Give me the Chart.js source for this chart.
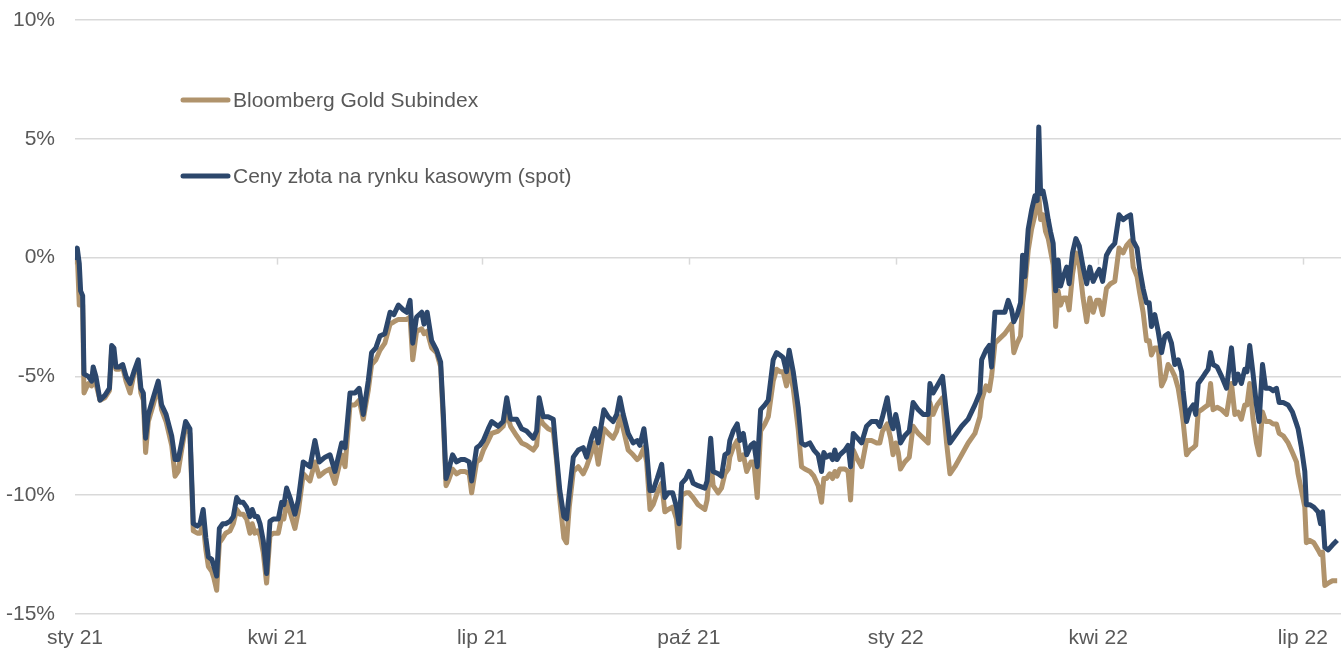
<!DOCTYPE html>
<html>
<head>
<meta charset="utf-8">
<script src="https://cdn.jsdelivr.net/npm/chart.js@4/dist/chart.umd.min.js"></script>
<style>
  html, body { margin: 0; padding: 0; background: #fff; }
  #wrap { width: 1341px; height: 650px; }
</style>
</head>
<body>
<div id="wrap"><canvas id="wykres" width="1341" height="650"></canvas></div>
<script>
// dni od 1 stycznia 2021
const dni = [0.0, 1.0, 1.9, 2.5, 3.4, 4.0, 5.9, 7.4, 8.1, 9.3, 11.1, 13.3, 15.3, 16.3, 17.3, 18.2, 19.7, 21.2, 22.7, 24.5,
  26.2, 28.1, 29.3, 30.4, 31.4, 32.6, 34.8, 37.0, 38.5, 40.5, 43.0, 44.5, 45.9, 47.4, 49.2, 51.1, 52.6, 54.4, 55.6, 57.0,
  58.2, 59.3, 60.8, 61.8, 63.0, 64.2, 65.7, 67.0, 68.9, 70.4, 71.9, 73.4, 74.8, 76.3, 77.8, 78.8, 80.0, 81.2, 82.3, 83.7,
  85.2, 86.7, 88.2, 90.4, 91.9, 92.9, 94.1, 95.6, 97.8, 99.3, 101.5, 104.5, 106.7, 108.6, 111.2, 113.4, 115.6, 118.6, 120.1, 122.3,
  124.5, 126.4, 128.2, 130.4, 131.9, 133.8, 135.6, 137.8, 140.1, 141.8, 143.8, 146.0, 147.5, 149.0, 150.2, 151.9, 154.2, 155.2, 156.6, 158.6,
  160.8, 162.6, 163.8, 165.0, 166.0, 167.9, 169.7, 171.5, 173.4, 175.3, 176.4, 178.6, 180.1, 181.6, 183.8, 185.3, 188.2, 190.4, 192.0, 193.7,
  196.4, 198.6, 200.8, 203.8, 205.3, 206.4, 208.2, 210.4, 212.7, 214.2, 215.6, 217.4, 218.6, 219.8, 221.6, 223.8, 226.0, 227.5, 229.7, 231.2,
  232.7, 235.2, 237.1, 239.3, 240.9, 242.3, 243.8, 246.0, 248.2, 250.0, 251.2, 253.0, 254.2, 255.7, 257.1, 258.9, 260.9, 262.3, 263.8, 265.8,
  267.5, 268.6, 269.8, 271.7, 273.1, 274.9, 277.1, 280.1, 281.1, 282.7, 283.8, 286.0, 287.5, 289.0, 290.5, 291.2, 292.7, 294.5, 295.7, 297.2,
  298.7, 300.6, 301.9, 303.4, 304.9, 306.8, 308.3, 310.5, 312.0, 313.5, 314.9, 316.4, 317.6, 319.4, 321.6, 323.1, 324.6, 326.8, 328.6, 330.5,
  332.0, 333.0, 334.2, 335.7, 336.9, 337.9, 338.9, 340.1, 342.4, 343.8, 344.9, 346.1, 348.0, 349.8, 352.0, 354.2, 356.5, 357.9, 359.1, 361.2,
  362.7, 363.8, 365.0, 366.1, 367.1, 369.0, 371.0, 372.7, 375.0, 377.2, 379.4, 380.2, 381.6, 383.4, 385.8, 387.6, 389.1, 391.3, 394.3, 397.2,
  400.2, 402.4, 403.2, 405.1, 406.6, 407.6, 409.1, 411.3, 413.5, 415.0, 416.5, 417.5, 419.0, 420.5, 421.4, 422.4, 423.9, 425.4, 426.9, 427.9,
  428.6, 429.4, 430.5, 431.6, 432.8, 433.8, 435.0, 436.1, 437.2, 438.3, 439.5, 441.0, 442.1, 443.6, 445.1, 446.6, 448.3, 449.9, 451.3, 452.8,
  454.3, 455.5, 457.0, 458.7, 460.5, 462.4, 464.3, 466.1, 467.6, 469.4, 470.6, 472.3, 473.5, 475.0, 476.5, 477.7, 478.7, 480.2, 481.7, 483.2,
  484.7, 486.1, 487.6, 489.1, 490.6, 492.1, 492.8, 494.3, 495.8, 497.3, 498.4, 499.5, 501.0, 502.4, 503.9, 505.0, 506.1, 507.9, 509.9, 512.1,
  514.3, 515.8, 517.2, 518.7, 520.2, 521.2, 522.4, 523.9, 525.4, 526.6, 528.1, 529.5, 531.3, 532.8, 534.3, 535.5, 537.3, 539.5, 541.4, 543.2,
  543.9, 545.4, 546.9, 547.6, 549.1, 550.9, 552.8, 553.9, 554.8, 555.8, 557.3, 559.2, 561.3];

// Bloomberg Gold Subindex, zmiana w %
const bcom = [-0.3, 0.2, -2.0, -1.6, -2.0, -5.7, -5.3, -5.4, -4.8, -5.3, -6.0, -5.9, -5.6, -3.9, -4.2, -4.7, -4.7, -4.6, -5.2, -5.7,
  -4.9, -4.5, -5.7, -6.0, -8.2, -6.9, -6.2, -5.4, -6.4, -6.9, -7.9, -9.2, -9.0, -8.1, -7.1, -7.4, -11.5, -11.6, -11.6, -11.2,
  -12.3, -13.0, -13.2, -13.5, -14.0, -12.0, -11.8, -11.6, -11.5, -11.2, -10.6, -10.8, -10.8, -11.0, -11.6, -11.2, -11.6, -11.5, -11.7, -12.4,
  -13.7, -11.7, -11.6, -11.6, -10.9, -11.0, -10.3, -10.7, -11.4, -10.7, -9.1, -9.4, -8.6, -9.2, -9.0, -8.9, -9.5, -8.3, -8.8, -6.2,
  -6.2, -6.0, -6.8, -5.6, -4.5, -4.3, -3.9, -3.6, -2.8, -2.7, -2.6, -2.6, -2.6, -2.5, -4.3, -3.1, -3.0, -3.2, -3.1, -3.8,
  -4.0, -4.6, -6.9, -9.6, -9.4, -8.9, -9.1, -9.0, -9.0, -9.1, -9.9, -8.6, -8.5, -8.1, -7.7, -7.4, -7.3, -7.1, -6.5, -7.1,
  -7.5, -7.8, -7.9, -8.1, -7.9, -6.7, -7.0, -7.2, -7.3, -8.6, -10.2, -11.8, -12.0, -10.5, -9.0, -8.8, -9.1, -8.8, -8.2, -7.8,
  -8.7, -7.2, -7.4, -7.6, -7.3, -6.7, -7.2, -8.1, -8.3, -8.5, -8.4, -8.0, -8.6, -10.6, -10.4, -9.9, -9.5, -10.7, -10.6, -10.5,
  -11.0, -12.2, -10.0, -9.9, -9.9, -10.1, -10.4, -10.6, -10.2, -8.5, -9.6, -9.9, -9.7, -9.1, -8.9, -8.4, -8.0, -7.7, -8.5, -8.3,
  -9.0, -8.6, -8.6, -10.1, -7.3, -7.0, -6.7, -5.2, -4.7, -4.8, -4.8, -5.4, -4.7, -5.5, -7.2, -8.8, -8.9, -9.0, -9.2, -9.6,
  -10.3, -9.3, -9.3, -9.1, -9.3, -9.0, -9.2, -8.9, -8.9, -9.0, -10.2, -8.1, -8.5, -8.8, -7.7, -7.7, -7.8, -7.8, -7.3, -7.0,
  -7.6, -8.3, -7.8, -8.2, -8.9, -8.6, -8.4, -7.1, -7.4, -7.6, -7.8, -6.1, -6.6, -6.2, -5.9, -7.8, -9.1, -8.8, -8.3, -7.8,
  -7.4, -6.7, -6.0, -5.4, -5.6, -5.0, -3.6, -3.4, -3.2, -3.0, -2.8, -4.0, -3.6, -3.3, -1.9, -1.2, 0.3, 1.2, 1.8, 2.2,
  2.6, 1.6, 1.8, 1.1, 0.8, 0.3, -0.3, -2.9, -1.4, -2.0, -1.7, -1.7, -2.2, -0.7, 0.2, -0.3, -1.7, -2.7, -1.7, -2.3,
  -1.8, -1.8, -2.4, -1.3, -1.1, -1.0, 0.4, 0.2, 0.5, 0.7, -0.4, -0.8, -1.5, -2.3, -3.5, -3.5, -4.1, -3.8, -3.8, -5.4,
  -5.1, -4.5, -4.7, -5.0, -5.5, -6.4, -6.9, -8.3, -8.1, -8.0, -7.9, -6.5, -6.4, -6.3, -6.2, -5.3, -6.4, -6.3, -6.4, -6.6,
  -5.3, -6.6, -6.5, -6.8, -6.2, -6.2, -5.3, -6.8, -7.8, -8.3, -6.5, -6.9, -6.9, -7.0, -7.0, -7.4, -7.5, -7.8, -8.2, -8.6,
  -9.1, -9.8, -10.5, -12.0, -11.9, -12.0, -12.3, -12.5, -12.4, -13.8, -13.7, -13.6, -13.6];

// Ceny złota na rynku kasowym (spot), zmiana w %
const spot = [-0.1, 0.4, -0.25, -1.4, -1.6, -4.9, -5.0, -5.2, -4.6, -5.0, -6.0, -5.8, -5.5, -3.7, -3.8, -4.6, -4.6, -4.5, -5.0, -5.3,
  -4.8, -4.3, -5.5, -5.7, -7.6, -6.6, -5.9, -5.2, -6.2, -6.6, -7.5, -8.5, -8.5, -7.8, -6.9, -7.2, -11.2, -11.3, -11.2, -10.6,
  -11.8, -12.6, -12.7, -13.0, -13.4, -11.4, -11.2, -11.2, -11.1, -10.9, -10.1, -10.3, -10.3, -10.5, -10.9, -10.6, -10.9, -10.9, -11.2, -11.9,
  -13.3, -11.1, -11.0, -11.0, -10.3, -10.4, -9.7, -10.1, -10.8, -10.2, -8.6, -8.8, -7.7, -8.6, -8.4, -8.3, -9.0, -7.8, -8.0, -5.7,
  -5.7, -5.5, -6.6, -5.2, -4.0, -3.8, -3.3, -3.2, -2.3, -2.4, -2.0, -2.2, -2.3, -1.8, -3.6, -2.5, -2.3, -2.8, -2.3, -3.5,
  -3.9, -4.4, -6.6, -9.3, -9.0, -8.3, -8.6, -8.5, -8.5, -8.6, -9.4, -8.0, -7.9, -7.7, -7.2, -6.9, -7.1, -6.9, -5.9, -6.8,
  -6.8, -7.2, -7.3, -7.6, -7.3, -5.9, -6.7, -6.7, -6.8, -8.4, -9.8, -10.9, -11.0, -9.9, -8.4, -8.1, -8.0, -8.4, -7.6, -7.2,
  -7.8, -6.4, -6.7, -6.9, -6.6, -5.9, -6.6, -7.4, -7.8, -7.7, -7.9, -7.2, -8.1, -9.8, -9.8, -9.3, -8.7, -10.1, -9.9, -9.9,
  -10.5, -11.2, -9.5, -9.3, -9.0, -9.5, -9.6, -9.7, -9.4, -7.6, -9.0, -9.1, -9.2, -8.3, -8.2, -7.7, -7.3, -7.0, -7.7, -7.4,
  -8.3, -7.9, -7.8, -8.8, -6.4, -6.2, -6.0, -4.3, -4.0, -4.1, -4.2, -4.8, -3.9, -4.8, -6.3, -7.8, -7.9, -7.8, -8.1, -8.3,
  -9.0, -8.2, -8.4, -8.3, -8.5, -8.1, -8.5, -8.3, -8.1, -7.9, -8.8, -7.4, -7.6, -7.8, -7.1, -6.9, -6.9, -7.1, -6.7, -5.9,
  -6.9, -7.2, -6.6, -7.1, -7.8, -7.5, -7.3, -6.1, -6.4, -6.6, -6.6, -5.3, -5.7, -5.4, -5.0, -6.6, -7.8, -7.5, -7.1, -6.8,
  -6.2, -5.7, -4.3, -3.9, -3.7, -4.6, -2.3, -2.3, -2.3, -1.8, -2.2, -2.7, -2.4, -1.9, 0.1, -0.8, 1.2, 2.0, 2.6, 2.4,
  5.5, 2.7, 2.8, 2.3, 1.6, 1.1, 0.6, -1.4, -0.1, -1.2, -0.8, -0.4, -1.1, 0.2, 0.8, 0.5, -0.4, -1.1, -0.4, -1.0,
  -0.7, -0.5, -1.0, 0.1, 0.4, 0.6, 1.8, 1.6, 1.7, 1.8, 0.7, 0.4, -0.5, -1.3, -1.9, -1.9, -2.9, -2.4, -3.1, -4.0,
  -3.3, -3.2, -3.6, -4.5, -4.3, -4.8, -5.6, -6.9, -6.4, -6.2, -6.6, -5.3, -5.1, -4.9, -4.7, -4.0, -4.5, -4.6, -5.0, -5.5,
  -3.8, -5.3, -4.9, -5.3, -4.7, -4.8, -3.7, -4.9, -6.2, -6.9, -4.5, -5.5, -5.5, -5.6, -5.5, -6.1, -6.1, -6.2, -6.5, -7.0,
  -7.2, -8.0, -9.0, -10.4, -10.4, -10.5, -10.7, -11.2, -10.7, -12.2, -12.3, -12.1, -11.9];

// etykiety osi X (początki kwartałów)
const etykiety = ['sty 21', 'kwi 21', 'lip 21', 'paź 21', 'sty 22', 'kwi 22', 'lip 22'];
const pozycjeEtykiet = [0, 90, 181, 273, 365, 455, 546];

const nazwy = ['Bloomberg Gold Subindex', 'Ceny złota na rynku kasowym (spot)'];
const kolory = ['#b0936c', '#2c476c'];

const szary = '#595959';
const czcionka = { family: "'Liberation Sans', Arial, sans-serif", size: 21 };

function punkty(wartosci) {
  return dni.map((d, i) => ({ x: d, y: wartosci[i] }));
}

// kreski podziałki na linii 0% (oś X przecina w zerze)
const kreskiNaZerze = {
  id: 'kreskiNaZerze',
  beforeDatasetsDraw(chart) {
    const ctx = chart.ctx;
    const y0 = chart.scales.y.getPixelForValue(0);
    ctx.save();
    ctx.strokeStyle = '#d9d9d9';
    ctx.lineWidth = 1.5;
    chart.scales.x.ticks.forEach(t => {
      const x = Math.round(chart.scales.x.getPixelForValue(t.value)) + 0.5;
      ctx.beginPath();
      ctx.moveTo(x, y0);
      ctx.lineTo(x, y0 + 7);
      ctx.stroke();
    });
    ctx.restore();
  }
};

// legenda wewnątrz wykresu
const legendaWewnatrz = {
  id: 'legendaWewnatrz',
  afterDraw(chart) {
    const ctx = chart.ctx;
    const wiersze = [100, 176];
    ctx.save();
    ctx.font = czcionka.size + 'px ' + czcionka.family;
    ctx.textBaseline = 'middle';
    nazwy.forEach((n, i) => {
      ctx.strokeStyle = kolory[i];
      ctx.lineWidth = 5;
      ctx.lineCap = 'round';
      ctx.beginPath();
      ctx.moveTo(183, wiersze[i]);
      ctx.lineTo(228, wiersze[i]);
      ctx.stroke();
      ctx.fillStyle = szary;
      ctx.fillText(n, 233, wiersze[i] + 1);
    });
    ctx.restore();
  }
};

const config = {
  type: 'line',
  data: {
    datasets: [
      {
        label: nazwy[0],
        data: punkty(bcom),
        borderColor: kolory[0],
        borderWidth: 5,
        order: 2,
      },
      {
        label: nazwy[1],
        data: punkty(spot),
        borderColor: kolory[1],
        borderWidth: 5,
        order: 1,
      },
    ],
  },
  options: {
    responsive: false,
    animation: false,
    layout: { padding: { top: 20, right: 0, left: 0, bottom: 0 } },
    elements: {
      point: { radius: 0 },
      line: { tension: 0, borderJoinStyle: 'round', fill: false },
    },
    plugins: {
      legend: { display: false },
      tooltip: { enabled: false },
    },
    scales: {
      x: {
        type: 'linear',
        min: 0,
        max: 563,
        grid: { display: false },
        border: { display: false },
        afterBuildTicks(scale) {
          scale.ticks = pozycjeEtykiet.map(v => ({ value: v }));
        },
        afterFit(scale) {
          scale.height = 36;
        },
        ticks: {
          autoSkip: false,
          maxRotation: 0,
          padding: 4,
          color: szary,
          font: czcionka,
          callback: v => etykiety[pozycjeEtykiet.indexOf(v)],
        },
      },
      y: {
        min: -15,
        max: 10,
        grid: { color: '#d9d9d9', lineWidth: 1.5, drawTicks: false },
        border: { display: false },
        afterFit(scale) {
          scale.width = 75;
          // padding etykiet nie powinien przesuwać obszaru wykresu w dół
          scale.paddingTop = 0;
          scale.paddingBottom = 0;
        },
        ticks: {
          stepSize: 5,
          padding: 20,
          color: szary,
          font: czcionka,
          callback: v => v + '%',
        },
      },
    },
  },
  plugins: [kreskiNaZerze, legendaWewnatrz],
};

const ctx = document.getElementById('wykres').getContext('2d');
const chart = new Chart(ctx, config);
</script>
</body>
</html>
